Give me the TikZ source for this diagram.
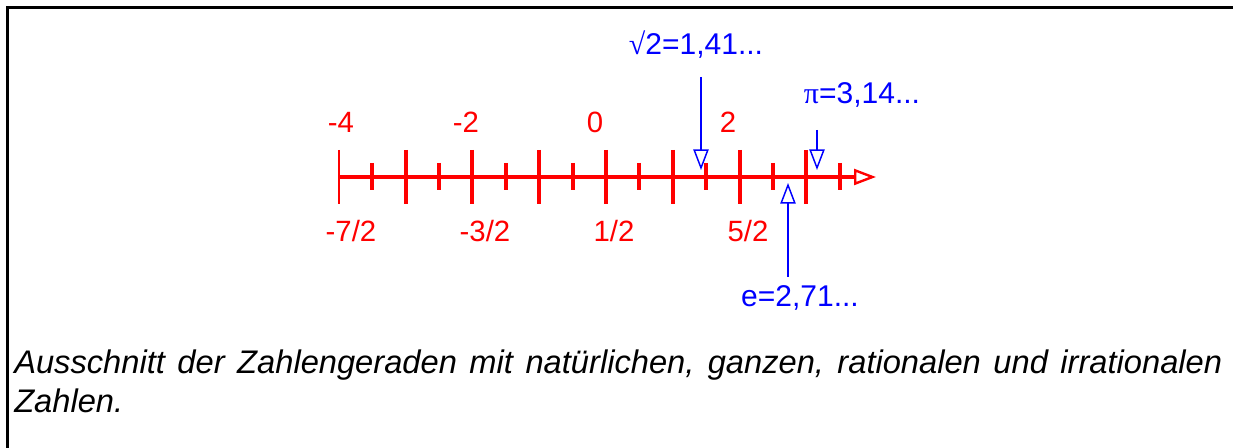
\documentclass[tikz,border=0pt]{standalone}
\usepackage{fontspec}
\setmainfont{Liberation Sans}
\newfontfamily\symbfont{Liberation Serif}
\usetikzlibrary{arrows.meta,positioning}
\definecolor{axR}{HTML}{FF0000}
\definecolor{irB}{HTML}{0000FF}
\hyphenpenalty=10000
\tikzset{
  axline/.style={axR, line width=3pt, -{Triangle[open, length=16.5pt, width=12pt, line width=1.8pt]}},
  bigtick/.style={axR, line width=3pt},
  smalltick/.style={axR, line width=3pt},
  ptr/.style={irB, line width=1.1pt, -{Triangle[open, length=15.5pt, width=11.5pt]}},
  rlab/.style={axR, font=\fontsize{22}{24}\selectfont, anchor=base, inner sep=0pt},
  blab/.style={irB, font=\fontsize{22.5}{25}\selectfont, anchor=base, inner sep=0pt},
  caplab/.style={font=\fontsize{24.5}{29.25}\selectfont\itshape, anchor=base west, inner sep=0pt, text width=906pt, align=justify},
}

\begin{document}
\begin{tikzpicture}[x=0.75pt,y=-0.75pt]
\useasboundingbox (0,0) rectangle (1233,448);

% ---- frame -----------------------------------------------------------------
\draw[line width=2.25pt] (7.5,448) -- (7.5,7.5) -- (1233,7.5);

% ---- number line -----------------------------------------------------------
\coordinate (lineStart) at (339,177);
\coordinate (lineEnd)   at (876,177);
\draw[axline] (lineStart) -- (lineEnd);
\draw[axR, line width=0.8pt] (339,150) -- (339,204);
\foreach \k in {-3,...,3}
  \draw[bigtick] ({606+66.8*\k},150) -- ({606+66.8*\k},204);
\foreach \k in {-3.5,-2.5,...,3.5}
  \draw[smalltick] ({606+66.8*\k},163) -- ({606+66.8*\k},190);

% ---- labels ----------------------------------------------------------------
\foreach \v/\x/\n in {-4/341/a,-2/466/b,0/595/c,2/728/d}
  \node[rlab] (int\n) at (\x,133) {\v};
\foreach \v/\x/\n in {{-7/2}/351/a,{-3/2}/485/b,{1/2}/614/c,{5/2}/748/d}
  \node[rlab] (half\n) at (\x,242) {\v};

% ---- irrational numbers ----------------------------------------------------
\node[blab] (sqrtTwo) at (696,55)  {{\symbfont √}2=1,41...};
\node[blab] (piNum)   at (862,104) {{\symbfont π}=3,14...};
\node[blab] (eNum)    at (800,307) {e=2,71...};
\coordinate (sqrtFrom) at (701,77);  \coordinate (sqrtTo) at (701,170);
\coordinate (piFrom)   at (817,130); \coordinate (piTo)   at (817,170);
\coordinate (eFrom)    at (788,277); \coordinate (eTo)    at (788,183);
\draw[ptr] (sqrtFrom) -- (sqrtTo);
\draw[ptr] (piFrom) -- (piTo);
\draw[ptr] (eFrom) -- (eTo);

% ---- caption ---------------------------------------------------------------
\node[caplab] (caption) at (14,374)
  {Ausschnitt der Zahlengeraden mit natürlichen, ganzen, rationalen und irrationalen Zahlen.};

\end{tikzpicture}
\end{document}
